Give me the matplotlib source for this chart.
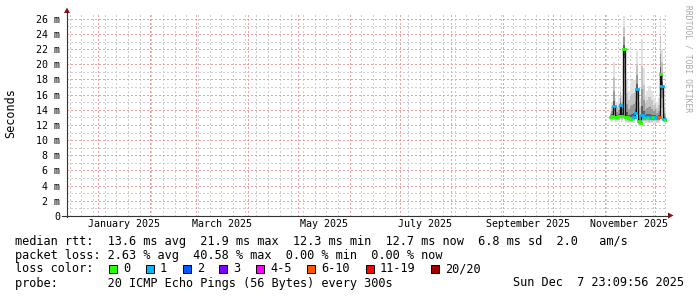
import matplotlib
matplotlib.use("Agg")
import matplotlib.pyplot as plt
import matplotlib.dates as mdates
from matplotlib.patches import Polygon, Rectangle
from matplotlib.lines import Line2D
import numpy as np
import pandas as pd

W, H = 697, 297
plt.rcParams["font.family"] = ["DejaVu Sans Mono", "DejaVu Sans"]

# --- data (one value per day) ---
days = pd.date_range("2025-11-04", "2025-12-07", freq="D")
median_ms = [13.1, 13.2, 14.5, 13.0, 13.1, 13.2, 14.6, 13.2, 22.0, 13.0,
             13.1, 12.9, 12.8, 12.9, 13.0, 13.6, 16.8, 12.5, 12.3, 13.3,
             13.0, 12.9, 13.0, 12.9, 13.0, 12.9, 13.0, 13.0, 12.9, 13.0,
             18.7, 17.1, 12.8, 12.7]
loss_pings = [0, 0, 1, 0, 0, 0, 1, 0, 0, 0,
              0, 0, 0, 0, 1, 1, 1, 0, 0, 1,
              1, 0, 1, 0, 1, 1, 0, 1, 1, 7,
              0, 1, 1, 0]
smoke_lo = [12.4, 12.4, 12.6, 12.3, 12.4, 12.4, 12.6, 12.4, 12.8, 12.3,
            12.3, 12.2, 12.1, 12.2, 12.3, 12.5, 12.6, 11.9, 11.8, 12.3,
            12.2, 12.2, 12.3, 12.2, 12.3, 12.2, 12.3, 12.3, 12.2, 12.3,
            12.9, 12.7, 12.2, 12.2]
smoke_hi = [13.8, 15.0, 20.3, 15.5, 15.0, 15.5, 17.3, 16.0, 26.4, 15.5,
            17.9, 16.5, 17.5, 17.9, 17.9, 18.0, 21.8, 15.0, 15.5, 23.3,
            19.5, 16.0, 16.5, 17.2, 17.2, 16.5, 15.5, 16.0, 15.0, 15.5,
            26.4, 22.0, 15.0, 14.0]

y_ticks = list(range(0, 27, 2))
y_labels = ["0"] + [f"{v} m" for v in y_ticks[1:]]
x_label_dates = ["2025-01-16 12:00", "2025-03-16 12:00", "2025-05-16 12:00",
                 "2025-07-16 12:00", "2025-09-16 00:00", "2025-11-16 00:00"]
x_labels = ["January 2025", "March 2025", "May 2025", "July 2025",
            "September 2025", "November 2025"]

loss_names = ["0", "1", "2", "3", "4-5", "6-10", "11-19", "20/20"]
loss_colors = ["#26ff00", "#00b8ff", "#0059ff", "#7e00ff", "#ff00ff",
               "#ff5500", "#ff0000", "#a10000"]
loss_upper = [0, 1, 2, 3, 5, 10, 19, 20]

t_end = pd.Timestamp("2025-12-08 12:00")
t_start = t_end - pd.Timedelta(days=360)


def fx(x):
    return x / W


def fy(y):
    return 1 - y / H


fig = plt.figure(figsize=(W / 100, H / 100), dpi=100, facecolor="white")
ax = fig.add_axes([fx(67), fy(216), 600 / W, 204 / H])
ax.set_xlim(mdates.date2num(t_start), mdates.date2num(t_end))
ax.set_ylim(0, 26.9)
for s in ax.spines.values():
    s.set_visible(False)

# rrdtool style dotted grid (crisp 1px dots)
minor_c, major_c = "#cfcfcf", "#eea0a0"
dots = (0, (1, 2))
grid_kw = dict(lw=1.0, ls=dots, antialiased=False)
for d in pd.date_range("2024-12-15", "2025-12-08", freq="7D"):
    ax.axvline(mdates.date2num(d), color=minor_c, zorder=0.5, **grid_kw)
for d in pd.date_range("2025-01-01", "2025-12-01", freq="MS"):
    ax.axvline(mdates.date2num(d), color=major_c, zorder=0.6, **grid_kw)
for v in range(1, 27):
    ax.axhline(v, color=major_c if v % 2 == 0 else minor_c,
               zorder=0.6 if v % 2 == 0 else 0.5, **grid_kw)

# smoke
x0 = mdates.date2num(days)
med = np.array(median_ms)
lo = np.array(smoke_lo)
hi = np.array(smoke_hi)
for f, c in [(1.0, "#e2e2e2"), (0.65, "#c4c4c4"), (0.35, "#999999"), (0.12, "#5e5e5e")]:
    b = med - f * (med - lo)
    t = med + f * (hi - med)
    ax.bar(x0, t - b, width=1.0, bottom=b, align="edge", color=c, lw=0, zorder=2)

# median line and loss colour marks
edges = np.append(x0, x0[-1] + 1.0)
ax.stairs(med, edges, baseline=None, color="#111111", lw=1.0, zorder=3)
cols = [loss_colors[next(i for i, u in enumerate(loss_upper) if l <= u)] for l in loss_pings]
ax.hlines(med, x0, x0 + 1.0, colors=cols, lw=2.0, capstyle="projecting", zorder=4)

ax.set_yticks(y_ticks)
ax.set_yticklabels(y_labels, fontsize=7.2)
ax.set_xticks(mdates.date2num(pd.to_datetime(x_label_dates)))
ax.set_xticklabels(x_labels, fontsize=7.2)
ax.tick_params(axis="y", length=0, pad=5)
ax.tick_params(axis="x", length=0, pad=2.5)

# axes lines + arrows
axis_c = "#333333"
arrow_c = "#8b1010"
fig.add_artist(Line2D([fx(67), fx(67)], [fy(216.5), fy(12)], color=axis_c, lw=0.8))
fig.add_artist(Line2D([fx(62), fx(669)], [fy(215.5), fy(215.5)], color=axis_c, lw=0.8))
fig.add_artist(Polygon([(fx(64), fy(13)), (fx(70), fy(13)), (fx(67), fy(7.5))],
                       closed=True, color=arrow_c, lw=0))
fig.add_artist(Polygon([(fx(668), fy(212.5)), (fx(668), fy(218.5)), (fx(673.5), fy(215.5))],
                       closed=True, color=arrow_c, lw=0))

fig.text(fx(11), fy(113), "Seconds", rotation=90, ha="center", va="center", fontsize=8.5)
fig.text(fx(688), fy(5), "RRDTOOL / TOBI OETIKER", rotation=270, ha="center", va="top",
         fontsize=5.8, color="#a8a8a8")

# legend
fs = 8.55
fig.text(fx(15), fy(244.5),
         "median rtt:  13.6 ms avg  21.9 ms max  12.3 ms min  12.7 ms now  6.8 ms sd  2.0   am/s",
         fontsize=fs, va="baseline")
fig.text(fx(15), fy(258.5),
         "packet loss: 2.63 % avg  40.58 % max  0.00 % min  0.00 % now",
         fontsize=fs, va="baseline")
fig.text(fx(15), fy(272.5), "loss color:", fontsize=fs, va="baseline")
sq_x = [108.5, 145.5, 182.5, 219, 255.5, 307, 365.5, 430.5]
for name, c, sx in zip(loss_names, loss_colors, sq_x):
    fig.add_artist(Rectangle((fx(sx), fy(273)), 8 / W, 8 / H, facecolor=c,
                             edgecolor="black", lw=0.7))
    fig.text(fx(sx + 14.5), fy(272.5), name, fontsize=fs, va="baseline")
fig.text(fx(15), fy(286.5), "probe:       20 ICMP Echo Pings (56 Bytes) every 300s",
         fontsize=fs, va="baseline")
fig.text(fx(684), fy(286.5), "Sun Dec  7 23:09:56 2025", fontsize=fs, va="baseline", ha="right")

fig.savefig("out.png", dpi=100, facecolor="white")
